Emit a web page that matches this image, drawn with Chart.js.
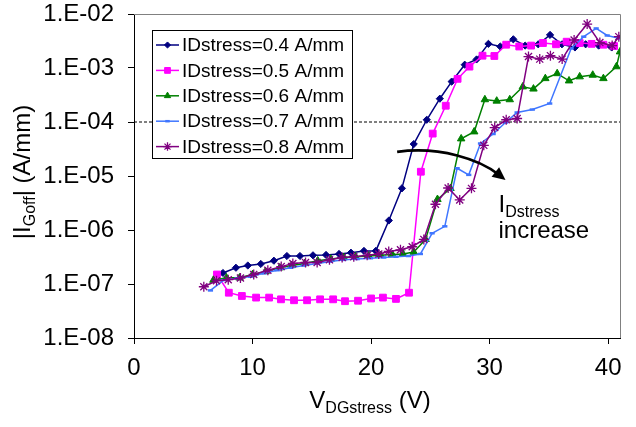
<!DOCTYPE html>
<html>
<head>
<meta charset="UTF-8">
<title>IGoff vs VDGstress</title>
<script src="https://cdn.jsdelivr.net/npm/chart.js@4.4.1/dist/chart.umd.min.js"></script>
<style>
  html, body { margin: 0; padding: 0; background: #fff; }
</style>
</head>
<body>
<canvas id="chart" width="636" height="427"></canvas>
<script>
// values
var seriesNames = ["IDstress=0.4 A/mm", "IDstress=0.5 A/mm", "IDstress=0.6 A/mm", "IDstress=0.7 A/mm", "IDstress=0.8 A/mm"];

var vds04 = [7.5, 8.6, 9.6, 10.7, 11.8, 12.9, 14.0, 15.1, 16.2, 17.3, 18.3, 19.4, 20.4, 21.5, 22.6, 23.6, 24.7, 25.8, 26.8, 27.9, 28.9, 29.9, 30.9, 32.0, 33.0, 34.1, 35.1, 36.1, 37.2, 38.1, 39.2, 40.3];
var ig04 = [1.6e-7, 2.0e-7, 2.2e-7, 2.35e-7, 2.7e-7, 3.3e-7, 3.3e-7, 3.4e-7, 3.45e-7, 3.6e-7, 3.8e-7, 4.1e-7, 4.1e-7, 1.5e-6, 5.9e-6, 3.9e-5, 1.1e-4, 2.7e-4, 5.6e-4, 1.15e-3, 1.44e-3, 2.8e-3, 2.5e-3, 3.4e-3, 2.6e-3, 2.75e-3, 4.1e-3, 2.75e-3, 2.4e-3, 2.75e-3, 2.6e-3, 2.4e-3];

var vds05 = [7.0, 8.0, 9.1, 10.3, 11.4, 12.4, 13.5, 14.6, 15.7, 16.8, 17.8, 18.9, 20.0, 21.0, 22.1, 23.2, 24.2, 25.2, 26.3, 27.3, 28.3, 29.4, 30.4, 31.4, 32.5, 33.5, 34.5, 35.6, 36.5, 37.6, 38.6, 39.6, 40.5];
var ig05 = [1.5e-7, 6.9e-8, 6.0e-8, 5.6e-8, 5.6e-8, 5.2e-8, 5.0e-8, 5.0e-8, 5.2e-8, 5.2e-8, 4.8e-8, 4.9e-8, 5.4e-8, 5.6e-8, 5.3e-8, 6.9e-8, 1.2e-5, 6.1e-5, 2.0e-4, 6.3e-4, 1.06e-3, 1.69e-3, 1.67e-3, 2.7e-3, 2.5e-3, 2.6e-3, 2.9e-3, 2.75e-3, 3.07e-3, 2.9e-3, 2.8e-3, 2.7e-3, 2.55e-3];

var vds06 = [6.7, 7.8, 8.9, 10.0, 11.1, 12.3, 13.3, 14.4, 15.5, 16.6, 17.7, 18.7, 19.8, 20.8, 21.8, 22.7, 23.6, 24.6, 25.6, 26.7, 27.6, 28.7, 29.6, 30.6, 31.7, 32.8, 33.7, 34.7, 35.7, 36.7, 37.6, 38.7, 39.6, 40.7, 41.0];
var ig06 = [1.18e-7, 1.3e-7, 1.3e-7, 1.5e-7, 1.7e-7, 2.0e-7, 2.2e-7, 2.4e-7, 2.7e-7, 2.9e-7, 3.1e-7, 3.2e-7, 3.3e-7, 3.4e-7, 3.5e-7, 3.6e-7, 3.9e-7, 6.7e-7, 3.7e-6, 5.9e-6, 4.9e-5, 6.6e-5, 2.6e-4, 2.45e-4, 2.6e-4, 4.5e-4, 4.1e-4, 6.4e-4, 7.9e-4, 5.8e-4, 6.9e-4, 7.4e-4, 6.4e-4, 1.06e-3, 2.0e-3];

var vds07 = [6.45, 7.57, 8.7, 9.83, 10.95, 12.08, 13.2, 14.32, 15.45, 16.58, 17.7, 18.83, 19.95, 21.07, 22.1, 23.15, 24.16, 25.15, 26.22, 27.26, 28.24, 29.23, 30.3, 31.34, 32.32, 33.6, 35.07, 36.88, 37.94, 38.99, 39.92, 40.9];
var ig07 = [7.6e-8, 1.18e-7, 1.28e-7, 1.37e-7, 1.58e-7, 1.8e-7, 2.0e-7, 2.2e-7, 2.4e-7, 2.6e-7, 2.8e-7, 2.9e-7, 3.0e-7, 3.1e-7, 3.2e-7, 3.3e-7, 3.6e-7, 8.7e-7, 1.17e-6, 1.39e-5, 1.05e-5, 4.0e-5, 6.0e-5, 9.8e-5, 1.5e-4, 1.7e-4, 2.2e-4, 2.3e-3, 3.8e-3, 5.4e-3, 4.0e-3, 3.55e-3];

var vds08 = [5.89, 6.96, 7.95, 8.98, 10.1, 11.29, 12.42, 13.4, 14.47, 15.45, 16.49, 17.56, 18.54, 19.67, 20.65, 21.49, 22.48, 23.47, 24.45, 25.43, 26.5, 27.48, 28.47, 29.51, 30.43, 31.4, 32.32, 33.28, 34.23, 35.13, 36.12, 37.13, 38.23, 39.3, 40.34, 40.9];
var ig08 = [8.9e-8, 1.15e-7, 1.2e-7, 1.29e-7, 1.5e-7, 1.8e-7, 2.1e-7, 2.4e-7, 2.5e-7, 2.5e-7, 2.8e-7, 3.1e-7, 3.2e-7, 3.4e-7, 3.6e-7, 4.0e-7, 4.3e-7, 4.9e-7, 6.7e-7, 3.0e-6, 6.0e-6, 3.6e-6, 5.9e-6, 3.7e-5, 7.9e-5, 1.1e-4, 1.16e-4, 1.63e-3, 1.46e-3, 1.69e-3, 1.46e-3, 3.3e-3, 6.5e-3, 2.96e-3, 2.6e-3, 3.8e-3];

// dotted reference level
var refX = [0, 41];
var refY = [1e-4, 1e-4];

var xTickStep = 10;
var yTickValues = [1e-8, 1e-7, 1e-6, 1e-5, 1e-4, 1e-3, 1e-2];
var yTickLabels = ["1.E-08", "1.E-07", "1.E-06", "1.E-05", "1.E-04", "1.E-03", "1.E-02"];

// annotation arrow (bezier in data coords) and its text
var arrowX = [22.2, 25.85, 29.2, 31.34];
var arrowY = [2.8e-5, 3.6e-5, 2.0e-5, 8.4e-6];
var noteX = 30.75;
var noteY = [2.16e-6, 7.1e-7];

var FONT = "'Liberation Sans', Arial, Helvetica, sans-serif";

function pts(xs, ys) {
    return xs.map(function (x, i) { return { x: x, y: ys[i] }; });
}

var styles = [
    { color: "#000080", point: "rectRot", radius: 3.6, pw: 1 },
    { color: "#ff00ff", point: "rect", radius: 4.8, pw: 1 },
    { color: "#008000", point: "triangle", radius: 4.3, pw: 1 },
    { color: "#3f76ff", point: "line", radius: 2.6, pw: 2.5 },
    { color: "#800080", point: "star", radius: 5, pw: 1.3 }
];
var xs = [vds04, vds05, vds06, vds07, vds08];
var ys = [ig04, ig05, ig06, ig07, ig08];

var datasets = seriesNames.map(function (name, i) {
    var s = styles[i];
    return {
        label: name,
        data: pts(xs[i], ys[i]),
        borderColor: s.color,
        backgroundColor: s.color,
        borderWidth: 1.5,
        pointStyle: s.point,
        pointRadius: s.radius,
        pointBorderWidth: s.pw,
        pointBackgroundColor: s.color,
        pointBorderColor: s.color,
        tension: 0,
        order: 5 - i
    };
});
datasets.push({
    label: "ref",
    data: pts(refX, refY),
    borderColor: "#000",
    borderWidth: 1,
    borderDash: [3, 2],
    pointRadius: 0,
    order: 10
});

var extras = {
    id: "extras",
    afterDraw: function (chart) {
        var ctx = chart.ctx;
        var a = chart.chartArea;
        var sx = chart.scales.x, sy = chart.scales.y;
        ctx.save();

        // plot area border, top and right
        ctx.strokeStyle = "#808080";
        ctx.lineWidth = 1;
        ctx.beginPath();
        ctx.moveTo(a.left, Math.round(a.top) + 0.5);
        ctx.lineTo(Math.round(a.right) + 0.5, Math.round(a.top) + 0.5);
        ctx.lineTo(Math.round(a.right) + 0.5, a.bottom);
        ctx.stroke();

        // legend box
        var lx = 152, ly = 30, lw = 200, lh = 128;
        ctx.fillStyle = "#fff";
        ctx.fillRect(lx, ly, lw, lh);
        ctx.strokeStyle = "#000";
        ctx.strokeRect(lx + 0.5, ly + 0.5, lw, lh);
        ctx.font = "19px " + FONT;
        ctx.textBaseline = "middle";
        for (var i = 0; i < seriesNames.length; i++) {
            var s = styles[i];
            var yy = 45 + i * 25.4;
            ctx.strokeStyle = s.color;
            ctx.fillStyle = s.color;
            ctx.lineWidth = 1.5;
            ctx.beginPath();
            ctx.moveTo(156, yy);
            ctx.lineTo(179, yy);
            ctx.stroke();
            if (Chart.helpers && Chart.helpers.drawPoint) {
                ctx.lineWidth = s.pw;
                Chart.helpers.drawPoint(ctx, { pointStyle: s.point, radius: s.radius * 0.85, borderWidth: s.pw, rotation: 0 }, 167.5, yy);
            }
            ctx.fillStyle = "#000";
            ctx.fillText(seriesNames[i], 182, yy + 1);
        }

        // arrow
        var p = arrowX.map(function (x, k) { return [sx.getPixelForValue(x), sy.getPixelForValue(arrowY[k])]; });
        ctx.strokeStyle = "#000";
        ctx.fillStyle = "#000";
        ctx.lineWidth = 2.6;
        var ang = Math.atan2(p[3][1] - p[2][1], p[3][0] - p[2][0]);
        var back = 9;
        var ex = p[3][0] - Math.cos(ang) * back, ey = p[3][1] - Math.sin(ang) * back;
        ctx.beginPath();
        ctx.moveTo(p[0][0], p[0][1]);
        ctx.bezierCurveTo(p[1][0], p[1][1], p[2][0], p[2][1], ex, ey);
        ctx.stroke();
        ctx.beginPath();
        ctx.moveTo(p[3][0], p[3][1]);
        ctx.lineTo(p[3][0] - Math.cos(ang) * 13 + Math.sin(ang) * 6, p[3][1] - Math.sin(ang) * 13 - Math.cos(ang) * 6);
        ctx.lineTo(p[3][0] - Math.cos(ang) * 13 - Math.sin(ang) * 6, p[3][1] - Math.sin(ang) * 13 + Math.cos(ang) * 6);
        ctx.closePath();
        ctx.fill();

        // note text
        var nx = sx.getPixelForValue(noteX);
        ctx.textBaseline = "alphabetic";
        ctx.textAlign = "left";
        ctx.font = "24px " + FONT;
        ctx.fillText("I", nx, sy.getPixelForValue(noteY[0]));
        var iw = ctx.measureText("I").width;
        ctx.font = "16px " + FONT;
        ctx.fillText("Dstress", nx + iw, sy.getPixelForValue(noteY[0]) + 5);
        ctx.font = "24px " + FONT;
        ctx.fillText("increase", nx, sy.getPixelForValue(noteY[1]));

        // x title
        drawSubTitle(ctx, "V", "DGstress", " (V)", 370, 408);

        // y title
        ctx.save();
        ctx.translate(30, 172);
        ctx.rotate(-Math.PI / 2);
        drawSubTitle(ctx, "|I", "Goff", "| (A/mm)", 0, 0);
        ctx.restore();

        ctx.restore();
    }
};

function drawSubTitle(ctx, a, sub, b, cx, base) {
    ctx.textBaseline = "alphabetic";
    ctx.textAlign = "left";
    ctx.fillStyle = "#000";
    ctx.font = "24px " + FONT;
    var wa = ctx.measureText(a).width, wb = ctx.measureText(b).width;
    ctx.font = "16px " + FONT;
    var ws = ctx.measureText(sub).width;
    var x0 = cx - (wa + ws + wb) / 2;
    ctx.font = "24px " + FONT;
    ctx.fillText(a, x0, base);
    ctx.font = "16px " + FONT;
    ctx.fillText(sub, x0 + wa, base + 5);
    ctx.font = "24px " + FONT;
    ctx.fillText(b, x0 + wa + ws, base);
}

new Chart(document.getElementById("chart").getContext("2d"), {
    type: "line",
    data: { datasets: datasets },
    options: {
        responsive: false,
        animation: false,
        layout: { padding: { top: 0, right: 16, left: 0, bottom: 0 } },
        plugins: { legend: { display: false }, tooltip: { enabled: false } },
        scales: {
            x: {
                type: "linear",
                min: 0,
                max: 41,
                afterFit: function (s) { s.height = 89; },
                ticks: { stepSize: xTickStep, includeBounds: false, maxRotation: 0, color: "#000", padding: 10, font: { size: 24, family: FONT } },
                grid: { drawOnChartArea: false, tickLength: 6, color: "#000" },
                border: { color: "#000", width: 1 }
            },
            y: {
                type: "logarithmic",
                min: 1e-8,
                max: 1e-2,
                afterFit: function (s) { s.width = 134; s.paddingTop = 14; s.paddingBottom = 14; },
                afterBuildTicks: function (s) { s.ticks = yTickValues.map(function (v) { return { value: v }; }); },
                ticks: {
                    color: "#000",
                    padding: 14,
                    font: { size: 24, family: FONT },
                    callback: function (v) { var k = yTickValues.indexOf(v); return k >= 0 ? yTickLabels[k] : ""; }
                },
                grid: { drawOnChartArea: false, tickLength: 6, color: "#000" },
                border: { color: "#000", width: 1 }
            }
        }
    },
    plugins: [extras]
});
</script>
</body>
</html>
